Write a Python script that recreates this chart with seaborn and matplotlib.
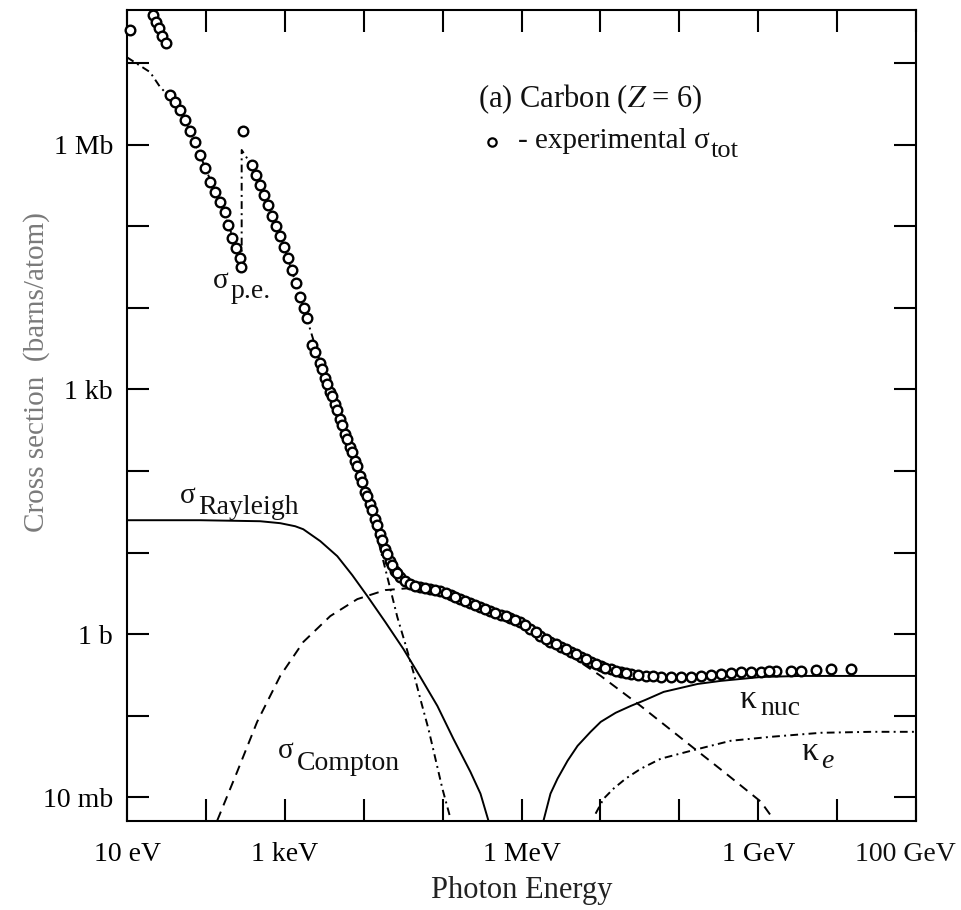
import numpy as np
import matplotlib
matplotlib.use('Agg')
import matplotlib.pyplot as plt
import seaborn as sns
from matplotlib.ticker import FixedLocator, NullLocator, FuncFormatter

# experimental total cross section (photon energy in eV, cross section in barns)
exp_E = [10.9, 21.4, 23.3, 25.5, 27.8, 31.3,
         35.1, 40.7, 47.1, 54.5, 63.1, 72.9, 84.4, 97.7, 113, 131, 151, 175, 191, 215, 241, 271, 280,
         296,
         385, 434, 487, 548, 616, 692, 778, 875, 983, 1105, 1241, 1396, 1567, 1762, 1924,
         2228, 2432, 2814, 3258, 3770, 4364, 5050, 5845, 6765, 7830, 9060, 10490, 12140, 14050,
         16260, 18820, 21780, 25200, 29170, 33700, 39000, 52200, 70000, 93700,
         1.26e5, 1.68e5, 2.25e5, 3.02e5, 4.04e5, 5.42e5, 7.25e5, 9.71e5,
         1.30e6, 1.74e6, 2.33e6, 3.13e6, 4.19e6, 5.61e6, 7.51e6,
         1.01e7, 1.35e7, 1.80e7, 2.42e7, 3.75e7, 5.81e7,
         1.04e8, 1.87e8, 3.35e8, 6.01e8, 1.08e9, 1.67e9, 2.59e9, 3.47e9, 5.38e9, 8.35e9, 1.50e10,
         45200, 60500, 81100, 1.09e5, 1.45e5, 1.95e5, 2.61e5, 3.49e5, 4.68e5, 6.27e5, 8.39e5,
         1.12e6, 1.51e6, 2.02e6, 2.70e6, 3.62e6, 4.84e6, 6.49e6, 8.69e6,
         1.16e7, 1.56e7, 2.09e7, 2.97e7, 4.60e7, 7.78e7, 1.40e8, 2.50e8, 4.49e8, 8.05e8, 1.36e9,
         2985, 3453, 3997, 4625, 5354, 6195, 7167, 8295, 9596, 11110, 12850, 14880, 17220, 19920,
         23060, 26690]
exp_sigma = [2.6e7, 3.9e7, 3.2e7, 2.7e7, 2.2e7, 1.8e7,
             4.1e6, 3.4e6, 2.7e6, 2.0e6, 1.5e6, 1.09e6, 7.5e5, 5.2e5, 3.5e5, 2.66e5, 2.0e5, 1.51e5,
             1.05e5, 7.3e4, 5.5e4, 4.1e4, 3.2e4,
             1.48e6,
             5.7e5, 4.3e5, 3.24e5, 2.44e5, 1.84e5, 1.35e5, 1.02e5, 7.7e4, 5.6e4, 4.1e4, 2.94e4, 2.04e4,
             1.38e4, 1.01e4, 7.6e3,
             3.55e3, 2.92e3, 2.14e3, 1.40e3, 944, 655, 429, 281, 195, 131, 86, 56, 39, 25.6, 16.8,
             11.0, 7.83, 5.90, 4.99, 4.46, 4.09, 3.76, 3.56, 3.36,
             3.00, 2.68, 2.40, 2.14, 1.91, 1.71, 1.57, 1.40,
             1.15, 0.946, 0.798, 0.693, 0.602, 0.523, 0.454,
             0.406, 0.373, 0.342, 0.324, 0.306, 0.297,
             0.297, 0.306, 0.324, 0.342, 0.342, 0.352, 0.352, 0.352, 0.362, 0.373, 0.373,
             3.87, 3.66, 3.46, 3.18, 2.84, 2.54, 2.27, 2.02, 1.81, 1.66, 1.48,
             1.29, 1.06, 0.869, 0.755, 0.655, 0.569, 0.494, 0.429,
             0.384, 0.352, 0.333, 0.315, 0.306, 0.297, 0.297, 0.315, 0.333, 0.342, 0.352,
             1807, 1183, 821, 553, 362, 244, 169, 114, 72.6, 49.0, 33.0, 21.6, 14.2, 9.54,
             7.00, 5.58]

# photoelectric (with the K edge)
pe_E = [10, 19.6, 26.3, 35.1, 54.5, 84.4, 131, 203, 284, 284, 385, 564, 875, 1567, 2814, 5050,
        9060, 14050, 17750, 21780, 26700, 33700, 42600, 52200, 66100, 81100, 99300, 1.26e5]
pe_sigma = [1.19e7, 7.83e6, 5.13e6, 3.87e6, 2.02e6, 7.5e5, 2.66e5, 9.1e4, 3.69e4, 8.68e5, 5.53e5,
            2.12e5, 7.7e4, 1.38e4, 2.14e3, 429, 86, 19.3, 7.83, 3.56, 1.61, 0.755, 0.342,
            0.160, 0.0687, 0.0295, 0.0127, 0.00543]

# Rayleigh (coherent)
ray_E = [10, 84.4, 487, 875, 1355, 1714, 2814, 4625, 7160, 11120, 18820, 31850, 52200, 85900,
         1.37e5, 2.25e5, 3.02e5, 3.81e5]
ray_sigma = [24.9, 24.9, 24.2, 22.9, 21.0, 19.3, 13.8, 9.02, 5.28, 2.92, 1.40, 0.655, 0.297,
             0.131, 0.0518, 0.0204, 0.0110, 0.00513]

# Compton (incoherent)
comp_E = [139, 249, 446, 875, 1714, 3770, 8300, 18820, 39000, 99300, 3.02e5, 9.71e5, 3.13e6,
          1.01e7, 3.24e7, 1.40e8, 3.66e8, 1.08e9, 1.45e9]
comp_sigma = [0.00513, 0.0204, 0.0836, 0.306, 0.798, 1.66, 2.68, 3.46, 3.66, 2.92, 2.02, 1.25,
              0.655, 0.306, 0.131, 0.0425, 0.0204, 0.00877, 0.0059]

# pair production, nuclear field
knuc_E = [1.90e6, 2.33e6, 2.86e6, 3.84e6, 5.14e6, 7.51e6, 1.01e7, 1.56e7, 2.42e7, 3.75e7, 6.34e7,
          1.04e8, 1.71e8, 3.35e8, 6.01e8, 1.08e9, 3.47e9, 1.50e10, 1e11]
knuc_sigma = [0.00513, 0.0110, 0.0168, 0.0279, 0.0425, 0.0631, 0.0836, 0.108, 0.131, 0.156, 0.195,
              0.218, 0.244, 0.266, 0.281, 0.297, 0.306, 0.306, 0.306]

# pair production, electron field
ke_E = [8.69e6, 1.10e7, 1.47e7, 2.09e7, 3.24e7, 5.81e7, 1.40e8, 4.49e8, 1.45e9, 6.22e9, 2.69e10, 1e11]
ke_sigma = [0.00625, 0.00955, 0.0127, 0.0168, 0.0222, 0.0295, 0.0369, 0.0490, 0.0548, 0.0614,
            0.0631, 0.0631]

x_label_exp = [1, 3, 6, 9]
x_label_text = ['10 eV', '1 keV', '1 MeV', '1 GeV']
last_x_label = '100 GeV'
y_label_exp = [6, 3, 0, -2]
y_label_text = ['1 Mb', '1 kb', '1 b', '10 mb']

sns.set_theme(style='ticks')
plt.rcParams['font.family'] = ['Liberation Serif', 'DejaVu Serif']
plt.rcParams['mathtext.fontset'] = 'stix'

fig = plt.figure(figsize=(9.61, 9.10), dpi=100)
ax = fig.add_axes([127 / 961, 1 - 821 / 910, 789 / 961, 811 / 910])
ax.set_xscale('log')
ax.set_yscale('log')
ax.set_xlim(1e1, 1e11)
ax.set_ylim(5.08e-3, 4.53e7)

lw = 1.4
dashdot = (0, (4, 2.2, 1, 2.2))
sns.lineplot(x=pe_E, y=pe_sigma, sort=False, estimator=None, color='black', lw=lw,
             linestyle=dashdot, ax=ax)
sns.lineplot(x=ray_E, y=ray_sigma, sort=False, estimator=None, color='black', lw=lw, ax=ax)
sns.lineplot(x=comp_E, y=comp_sigma, sort=False, estimator=None, color='black', lw=lw,
             linestyle=(0, (5, 3.5)), ax=ax)
sns.lineplot(x=knuc_E, y=knuc_sigma, sort=False, estimator=None, color='black', lw=lw, ax=ax)
sns.lineplot(x=ke_E, y=ke_sigma, sort=False, estimator=None, color='black', lw=lw,
             linestyle=dashdot, ax=ax)
sns.scatterplot(x=exp_E, y=exp_sigma, marker='o', s=48, facecolor='white', edgecolor='black',
                linewidth=1.7, zorder=3, clip_on=False, ax=ax)

# ticks at every decade, labels only on some
x_labels = dict(zip(x_label_exp, x_label_text))
y_labels = dict(zip(y_label_exp, y_label_text))
ax.xaxis.set_major_locator(FixedLocator(10.0 ** np.arange(1, 12)))
ax.yaxis.set_major_locator(FixedLocator(10.0 ** np.arange(-2, 8)))
ax.xaxis.set_minor_locator(NullLocator())
ax.yaxis.set_minor_locator(NullLocator())
ax.xaxis.set_major_formatter(FuncFormatter(lambda v, p: x_labels.get(int(round(np.log10(v))), '')))
ax.yaxis.set_major_formatter(FuncFormatter(lambda v, p: y_labels.get(int(round(np.log10(v))), '')))
ax.tick_params(which='both', direction='in', length=16, width=1.5, top=True, right=True,
               labelsize=20, colors='black')
ax.tick_params(axis='x', pad=15)
ax.tick_params(axis='y', pad=10)
for sp in ax.spines.values():
    sp.set_linewidth(1.5)
    sp.set_color('black')

ax.set_xlabel('Photon Energy', fontsize=22, color='#222222')
ax.xaxis.set_label_coords(0.5, -0.068)
ax.set_ylabel('Cross section  (barns/atom)', fontsize=21, color='#7a7a7a')
ax.yaxis.set_label_coords(-0.098, 0.554)


def fx(px):
    return (px - 127) / 789


def fy(py):
    return (821 - py) / 811


def label(px, py, s, size, **kw):
    kw.setdefault('ha', 'left')
    kw.setdefault('va', 'baseline')
    ax.text(fx(px), fy(py), s, transform=ax.transAxes, fontsize=size,
            color='#111111', clip_on=False, **kw)


# last x tick label sits a little left of its tick so it stays inside the figure
label(905, 842, last_x_label, 20, ha='center', va='top')

label(478, 107, r'(a) Carbon ($Z$ = 6)', 22)
ax.plot([fx(492)], [fy(142)], 'o', ms=6, mfc='white', mec='black', mew=1.6,
        transform=ax.transAxes, clip_on=False)
label(518, 148, '- experimental σ', 21)
label(711, 157, 'tot', 19)

label(213, 288, 'σ', 21)
label(231, 298, 'p.e.', 20)
label(180, 503, 'σ', 21)
label(198, 514, 'Rayleigh', 20)
label(278, 758, 'σ', 21)
label(297, 770, 'Compton', 20)
label(739, 708, 'κ', 24)
label(760, 715, 'nuc', 20)
label(801, 760, 'κ', 24)
label(821, 768, 'e', 20, style='italic')

fig.savefig('out.png', dpi=100)
